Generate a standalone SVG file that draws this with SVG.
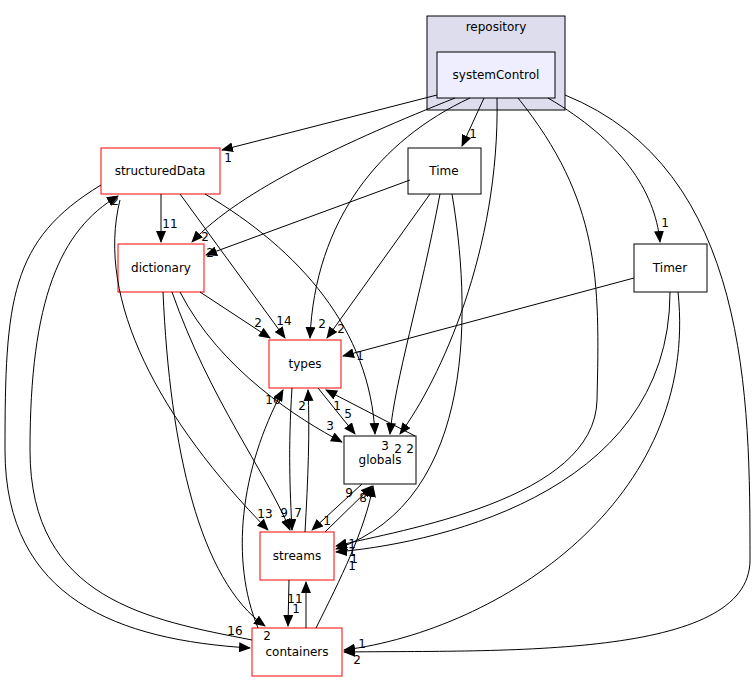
<svg xmlns="http://www.w3.org/2000/svg" width="755" height="681" viewBox="0 0 755 681">
<style>
text{font-family:"DejaVu Sans",sans-serif;font-size:12px;text-anchor:middle}
.n{fill:#fff;stroke:#000}
.r{fill:#fff;stroke:#ff0000}
.e path{fill:none;stroke:#000;marker-end:url(#a)}
</style>
<defs><marker id="a" markerWidth="12" markerHeight="10" refX="11" refY="5" orient="auto" markerUnits="userSpaceOnUse"><path d="M0,0L12,5L0,10z" fill="#000"/></marker></defs>
<rect width="755" height="681" fill="#fff"/>
<g id="repository"><rect x="427" y="16" width="138" height="94" fill="#ddddee" stroke="#000"/><text x="496" y="31">repository</text></g>
<g id="systemControl"><rect x="437" y="52" width="118" height="46" fill="#eeeeff" stroke="#000"/><text x="496" y="79">systemControl</text></g>
<g id="structuredData"><rect class="r" x="101" y="148" width="119" height="46"/><text x="160" y="175">structuredData</text></g>
<g id="Time"><rect class="n" x="408" y="148" width="73" height="46"/><text x="444" y="175">Time</text></g>
<g id="dictionary"><rect class="r" x="118" y="244" width="86" height="48"/><text x="161" y="272">dictionary</text></g>
<g id="Timer"><rect class="n" x="634" y="244" width="73" height="48"/><text x="670" y="272">Timer</text></g>
<g id="types"><rect class="r" x="269" y="340" width="72" height="48"/><text x="305" y="368">types</text></g>
<g id="globals"><rect class="n" x="344" y="436" width="72" height="48"/><text x="380" y="464">globals</text></g>
<g id="streams"><rect class="r" x="260" y="532" width="74" height="48"/><text x="297" y="560">streams</text></g>
<g id="containers"><rect class="r" x="252" y="628" width="90" height="48"/><text x="297" y="656">containers</text></g>
<g id="edges" class="e">
<path d="M437,95L222,150"/><text x="228" y="162">1</text>
<path d="M484,98L462,146"/><text x="473" y="138">1</text>
<path d="M548,98C620,140 655,190 660,242"/><text x="665" y="227">1</text>
<path d="M455,98C350,140 240,190 192,242"/><text x="205" y="241">2</text>
<path d="M470,98C380,140 315,220 310,338"/><text x="322" y="328">2</text>
<path d="M497,98C500,250 440,380 400,434"/><text x="410" y="453">2</text>
<path d="M518,98C600,200 600,280 597,400C595,500 400,530 336,546"/><text x="352" y="548">1</text>
<path d="M565,95C750,170 750,400 750,560C750,660 500,650 344,652"/><text x="357" y="664">2</text>
<path d="M634,278L343,356"/><text x="360" y="360">1</text>
<path d="M670,292C670,500 420,545 336,552"/><text x="352" y="556">1</text>
<path d="M678,292C700,500 500,630 344,650"/><text x="362" y="648">1</text>
<path d="M410,180L206,255"/><text x="210" y="257">2</text>
<path d="M430,194L327,338"/><text x="341" y="333">2</text>
<path d="M440,194C420,300 395,380 390,434"/><text x="398" y="453">2</text>
<path d="M452,194C470,300 480,500 336,549"/><text x="354" y="563">1</text>
<path d="M161,194L161,242"/><text x="170" y="228">11</text>
<path d="M180,194L285,338"/><text x="284" y="325">14</text>
<path d="M205,194C300,250 370,330 375,434"/><text x="385" y="450">3</text>
<path d="M101,185C10,240 5,300 5,450C5,600 120,640 250,648"/><text x="235" y="635">16</text>
<path d="M252,640C150,620 30,600 30,450C30,300 60,230 118,196"/><text x="115" y="205">2</text>
<path d="M120,200C95,300 160,420 268,530"/><text x="265" y="518">13</text>
<path d="M200,292L270,338"/><text x="258" y="327">2</text>
<path d="M180,292C220,370 300,420 342,442"/><text x="330" y="430">3</text>
<path d="M172,292C210,400 265,470 290,530"/><text x="284" y="517">9</text>
<path d="M163,292C170,450 200,580 265,626"/><text x="267" y="640">2</text>
<path d="M292,388C288,450 290,490 292,530"/>
<path d="M305,532C308,480 310,430 308,390"/><text x="302" y="410">2</text><text x="298" y="517">7</text>
<path d="M415,436L326,390"/><text x="337" y="410">1</text>
<path d="M318,388L355,434"/><text x="348" y="418">5</text>
<path d="M362,484L312,530"/><text x="349" y="497">9</text>
<path d="M325,532L372,486"/><text x="327" y="525">1</text><text x="363" y="502">8</text>
<path d="M316,628C340,580 365,530 373,486"/><text x="352" y="570">1</text>
<path d="M306,628L306,582"/><text x="295" y="603">11</text>
<path d="M289,580L288,626"/><text x="296" y="613">1</text>
<path d="M258,628C230,560 240,470 283,390"/><text x="273" y="404">16</text>
</g>
</svg>
